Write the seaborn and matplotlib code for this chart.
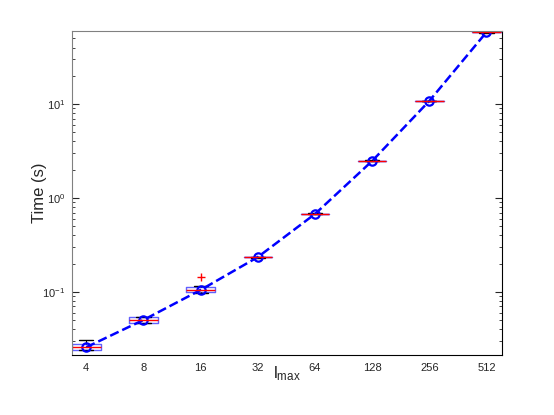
import numpy as np
import pandas as pd
import matplotlib
matplotlib.use("Agg")
import matplotlib.pyplot as plt
import seaborn as sns

# l_max values (categories) and measured run times (s) for each
lmax = ["4", "8", "16", "32", "64", "128", "256", "512"]
runs = {
    "4": [0.0238, 0.0240, 0.0260, 0.0278, 0.0310],
    "8": [0.0465, 0.0470, 0.0503, 0.0540, 0.0545],
    "16": [0.098, 0.100, 0.104, 0.106, 0.116, 0.144],
    "32": [0.232, 0.233, 0.235, 0.237, 0.238],
    "64": [0.668, 0.672, 0.676, 0.680, 0.684],
    "128": [2.45, 2.46, 2.48, 2.50, 2.51],
    "256": [10.7, 10.75, 10.8, 10.85, 10.9],
    "512": [57.8, 58.0, 58.3, 58.6, 58.8],
}
mean_time = [0.0258, 0.0503, 0.105, 0.235, 0.676, 2.48, 10.8, 58.3]

rows = [(k, v) for k in lmax for v in runs[k]]
df = pd.DataFrame(rows, columns=["lmax", "time"])
df_mean = pd.DataFrame({"lmax": lmax, "time": mean_time})

sns.set_style("white")
plt.rcParams["font.family"] = ["Liberation Sans", "DejaVu Sans"]

fig = plt.figure(figsize=(5.54, 4.15), dpi=100)
ax = fig.add_axes([0.130, 0.145, 0.776, 0.780])

sns.boxplot(data=df, x="lmax", y="time", order=lmax, width=0.5, whis=1.5,
            fill=False, log_scale=True, ax=ax,
            boxprops=dict(color="#6060ff", linewidth=1.0),
            medianprops=dict(color="red", linewidth=1.0),
            whiskerprops=dict(color="black", linewidth=0.8, linestyle="--"),
            capprops=dict(color="black", linewidth=1.0),
            flierprops=dict(marker="+", markeredgecolor="red", markersize=6))

sns.pointplot(data=df_mean, x="lmax", y="time", order=lmax, ax=ax,
              color="#0000ff", linestyles="--", markers="o",
              markersize=6, markerfacecolor="none", markeredgewidth=1.6,
              linewidth=1.8)

ax.set_yscale("log")
ax.set_ylim(0.0214, 59.8)
ax.set_xlim(-0.25, 7.27)

for s in ["left", "top"]:
    ax.spines[s].set_color("#808080")
for s in ["bottom", "right"]:
    ax.spines[s].set_color("black")

ax.tick_params(axis="y", which="both", direction="in", left=True, right=True,
               labelsize=8, pad=5)
ax.tick_params(axis="y", which="major", length=5)
ax.tick_params(axis="y", which="minor", length=2.5)
ax.tick_params(axis="x", length=0, labelsize=8, pad=6)

ax.set_ylabel("Time (s)", fontsize=12)
ax.yaxis.set_label_coords(-0.058, 0.5)
ax.set_xlabel(r"$\mathregular{l_{max}}$", fontsize=12)
ax.xaxis.set_label_coords(0.5, -0.03)

plt.savefig("out.png", dpi=100)
